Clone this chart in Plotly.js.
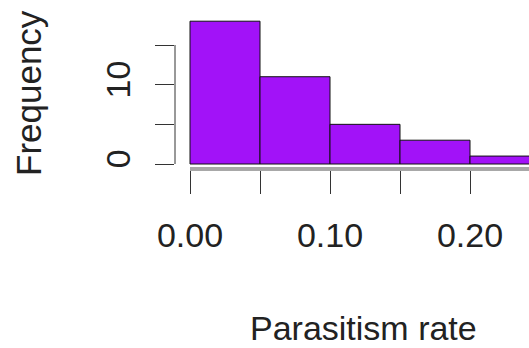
<!DOCTYPE html>
<html>
<head>
<meta charset="utf-8">
<script src="https://cdn.plot.ly/plotly-3.0.1.min.js"></script>
<style>html,body{margin:0;padding:0;background:#fff;}#chart{width:529px;height:348px;}</style>
</head>
<body>
<div id="chart"></div>
<script>
const binStarts = [0.00, 0.05, 0.10, 0.15, 0.20];
const binWidth = 0.05;
const counts = [18, 11, 5, 3, 1];
const xTickVals = [0, 0.05, 0.10, 0.15, 0.20, 0.25];
const xTickText = ["0.00", "", "0.10", "", "0.20", ""];
const yTickVals = [0, 5, 10, 15];
const yTickText = ["0", "", "10", ""];
const xTitle = "Parasitism rate";
const yTitle = "Frequency";

const FONT = "Liberation Sans, Arial, Helvetica, sans-serif";
const W = 529, H = 348;
const plotL = 175, plotB = 169;
const pxPerX = 1400, pxPerY = 119 / 15;
const x0px = 190, y0px = 164;

const xRange = [(plotL - x0px) / pxPerX, (W - x0px) / pxPerX];
const yRange = [-(plotB - y0px) / pxPerY, y0px / pxPerY];

const trace = {
  type: 'bar',
  x: binStarts,
  y: counts,
  width: binStarts.map(() => binWidth),
  offset: 0,
  marker: { color: '#A212F8', line: { color: '#111111', width: 1 } },
  hoverinfo: 'skip'
};

const plotW = W - plotL, plotH = plotB;
const layout = {
  width: W, height: H,
  margin: { l: plotL, r: 0, t: 0, b: H - plotB, pad: 0 },
  paper_bgcolor: '#ffffff', plot_bgcolor: '#ffffff',
  showlegend: false,
  bargap: 0,
  font: { family: FONT, color: '#222222', size: 34 },
  xaxis: {
    range: xRange, showgrid: false, zeroline: false, showline: false,
    tickmode: 'array', tickvals: xTickVals, ticktext: xTickText,
    ticks: 'outside', ticklen: 24, tickwidth: 1, tickcolor: '#333333',
    tickfont: { family: FONT, size: 34, color: '#222222' },
    ticklabelstandoff: 12
  },
  yaxis: {
    range: yRange, showgrid: false, zeroline: false, showline: false,
    tickmode: 'array', tickvals: yTickVals, ticktext: yTickText,
    ticks: 'outside', ticklen: 19, tickwidth: 1, tickcolor: '#333333',
    tickangle: -90,
    tickfont: { family: FONT, size: 34, color: '#222222' },
    ticklabelstandoff: 11
  },
  shapes: [
    { type: 'line', xref: 'paper', yref: 'y', x0: 0, x1: 0,
      y0: yTickVals[0], y1: yTickVals[yTickVals.length - 1],
      line: { color: '#333333', width: 1 } },
    { type: 'line', xref: 'x', yref: 'paper', x0: xTickVals[0], x1: xTickVals[xTickVals.length - 1],
      y0: 0, y1: 0, line: { color: '#a8a8a8', width: 4 } }
  ],
  annotations: [
    { text: xTitle, xref: 'paper', yref: 'paper',
      x: (363 - plotL) / plotW, y: (plotB - 328) / plotH,
      xanchor: 'center', yanchor: 'middle', showarrow: false,
      font: { family: FONT, size: 34, color: '#222222' } },
    { text: yTitle, xref: 'paper', yref: 'paper', textangle: -90,
      x: (29 - plotL) / plotW, y: (plotB - 93) / plotH,
      xanchor: 'center', yanchor: 'middle', showarrow: false,
      font: { family: FONT, size: 35, color: '#222222' } }
  ]
};

Plotly.newPlot('chart', [trace], layout, { staticPlot: true, displayModeBar: false });
</script>
</body>
</html>
